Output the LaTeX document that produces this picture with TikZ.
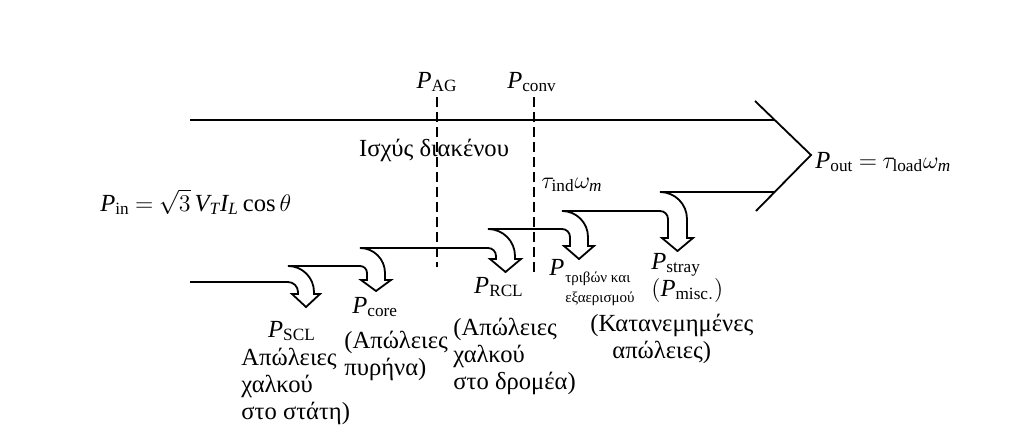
\documentclass[tikz,border=0pt]{standalone}
\usepackage{fontspec}
\setmainfont{Liberation Serif}
\usepackage{amsmath}
\newcommand{\tightmath}{\thickmuskip=4mu\relax}
\tikzset{%
	band/.style={line width=0.9pt},
	gapline/.style={line width=0.8pt, dash pattern=on 5pt off 2.5pt},
	lbl/.style={font=\fontsize{12.3}{13.5}\selectfont\tightmath, inner sep=0pt},
	sublbl/.style={font=\fontsize{7.5}{10}\selectfont, inner sep=0pt, align=left},
}
\begin{document}
\begin{tikzpicture}[x=0.5pt,y=-0.5pt]
	\useasboundingbox (0,0) rectangle (1013,439);
	
	% Draw the top edge and the head of the power band
	\draw[band] (190,120) -- (774,120);
	\draw[band] (755,101) -- (811,155) -- (756,211);
	
	% Draw the stepped lower edge with the loss arrows
	\draw[band] (190,282) -- (288,282)
		arc[start angle=-90,end angle=0,radius=10]
		-- (298,294) -- (292,294) -- (306,307) -- (320,294) -- (314,294) -- (314,292)
		arc[start angle=0,end angle=-90,radius=26]
		-- (360,266)
		arc[start angle=-90,end angle=0,radius=7]
		-- (367,280) -- (361,280) -- (376,291) -- (391,280) -- (385,280) -- (385,273)
		arc[start angle=0,end angle=-90,radius=25]
		-- (488,248)
		arc[start angle=-90,end angle=0,radius=8]
		-- (496,259) -- (490,259) -- (505.5,272) -- (521,259) -- (515,259) -- (515,256)
		arc[start angle=0,end angle=-90,radius=27]
		-- (562,229)
		arc[start angle=-90,end angle=0,radius=8]
		-- (570,246) -- (564,246) -- (579,259) -- (594,246) -- (588,246) -- (588,237)
		arc[start angle=0,end angle=-90,radius=26]
		-- (660,211)
		arc[start angle=-90,end angle=0,radius=8]
		-- (668,238) -- (662,238) -- (677.5,251) -- (693,238) -- (687,238) -- (687,219)
		arc[start angle=0,end angle=-90,radius=27]
		-- (775,192);
	
	% Draw the dashed section lines
	\node[lbl] (pag) at (437,82) {$\mathit{P}_{\mathrm{AG}}$};
	\node[lbl] (pconv) at (532,82) {$\mathit{P}_{\mathrm{conv}}$};
	\draw[gapline] (437,97) -- (437,267);
	\draw[gapline] (534,97) -- (534,272);
	
	% Input, air gap and output labels
	\node[lbl, anchor=west] (pin) at (100,202) {$\mathit{P}_{\mathrm{in}} = \sqrt{3}\,\mathit{V}_{\mathit{T}}\mathit{I}_{\mathit{L}}\cos\theta$};
	\node[lbl] (gap) at (434,150) {Ισχύς διακένου};
	\node[lbl, anchor=west] (tind) at (541,185) {$\tau_{\mathrm{ind}}\omega_{\mathit{m}}$};
	\node[lbl, anchor=west] (pout) at (815,162) {$\mathit{P}_{\mathrm{out}} = \tau_{\mathrm{load}}\omega_{\mathit{m}}$};
	
	% Loss labels
	\node[lbl] (pscl) at (292,331) {$\mathit{P}_{\mathrm{SCL}}$};
	\node[lbl, anchor=north west, align=left] (scltxt) at (241,348) {Απώλειες\\χαλκού\\στο στάτη)};
	\node[lbl, anchor=west] (pcore) at (352,307) {$\mathit{P}_{\mathrm{core}}$};
	\node[lbl, anchor=north west, align=left] (coretxt) at (344,331) {(Απώλειες\\πυρήνα)};
	\node[lbl] (prcl) at (499,287) {$\mathit{P}_{\mathrm{RCL}}$};
	\node[lbl, anchor=north west, align=left] (rcltxt) at (453,318) {(Απώλειες\\χαλκού\\στο δρομέα)};
	\node[lbl, anchor=west] (pfw) at (549,267) {$\mathit{P}$};
	\node[sublbl, anchor=north west] (fwtxt) at (565,272) {τριβών και\\εξαερισμού};
	\node[lbl, anchor=west] (pstray) at (651,265) {$\mathit{P}_{\mathrm{stray}}$};
	\node[lbl, anchor=west] (pmisc) at (651,290) {$(\mathit{P}_{\mathrm{misc.}})$};
	\node[lbl, anchor=west] (stray1) at (590,325) {(Κατανεμημένες};
	\node[lbl, anchor=west] (stray2) at (612,352) {απώλειες)};
	
\end{tikzpicture}
\end{document}
